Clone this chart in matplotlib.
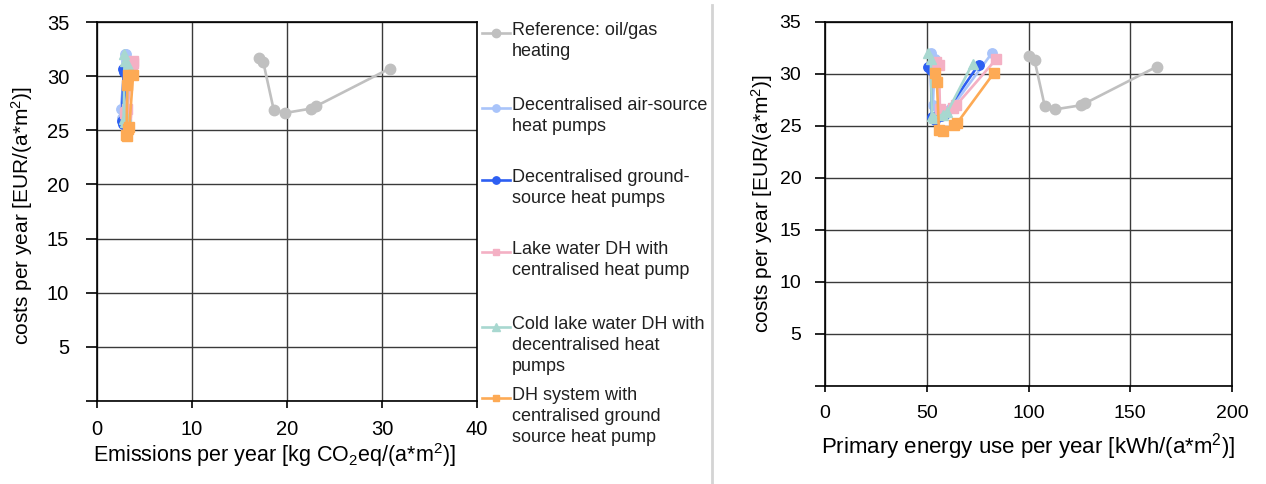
import matplotlib
matplotlib.use('Agg')
import matplotlib.pyplot as plt
from matplotlib.lines import Line2D

plt.rcParams['font.family'] = ['Liberation Sans', 'DejaVu Sans']
plt.rcParams['mathtext.fontset'] = 'custom'
plt.rcParams['mathtext.rm'] = 'Liberation Sans'
plt.rcParams['mathtext.it'] = 'Liberation Sans:italic'

# series: emissions [kg CO2eq/(a*m2)], primary energy [kWh/(a*m2)], costs [EUR/(a*m2)]
ref_emis = [17.0, 17.5, 18.6, 19.8, 22.5, 23.0, 30.8]
ref_pe = [100.0, 103.0, 108.0, 113.0, 126.0, 128.0, 163.0]
ref_cost = [31.7, 31.3, 26.9, 26.6, 27.0, 27.2, 30.7]

air_emis = [2.9, 3.0, 2.5, 2.6, 2.8, 2.9, 3.1]
air_pe = [52.0, 54.0, 53.0, 55.0, 60.0, 62.0, 82.0]
air_cost = [32.0, 31.4, 27.0, 26.1, 26.4, 26.7, 32.0]

ground_emis = [2.7, 2.8, 2.6, 2.7, 2.8, 2.9, 3.0]
ground_pe = [50.5, 52.0, 52.5, 54.0, 57.0, 59.0, 75.5]
ground_cost = [30.7, 30.4, 25.9, 25.6, 26.0, 26.2, 30.9]

lake_emis = [3.8, 3.7, 2.9, 3.0, 3.1, 3.2, 3.8]
lake_pe = [54.5, 56.0, 56.5, 57.5, 63.0, 64.5, 84.0]
lake_cost = [31.2, 30.9, 26.6, 26.3, 26.7, 27.0, 31.4]

cold_emis = [2.8, 2.9, 2.8, 2.9, 3.0, 3.1, 3.3]
cold_pe = [50.5, 52.0, 52.5, 53.5, 58.0, 60.0, 72.5]
cold_cost = [32.0, 31.4, 26.0, 25.8, 26.1, 26.3, 31.0]

dh_emis = [3.3, 3.2, 3.1, 3.2, 3.3, 3.4, 3.8]
dh_pe = [54.0, 55.0, 56.0, 58.0, 63.5, 65.0, 83.0]
dh_cost = [30.1, 29.2, 24.6, 24.5, 25.1, 25.3, 30.1]

labels = ['Reference: oil/gas\nheating',
          'Decentralised air-source\nheat pumps',
          'Decentralised ground-\nsource heat pumps',
          'Lake water DH with\ncentralised heat pump',
          'Cold lake water DH with\ndecentralised heat\npumps',
          'DH system with\ncentralised ground\nsource heat pump']

series = [
    (ref_emis, ref_pe, ref_cost, '#c0c0c0', 'o', 7.5),
    (air_emis, air_pe, air_cost, '#a9c4fa', 'o', 6.8),
    (ground_emis, ground_pe, ground_cost, '#2d5ff2', 'o', 6.8),
    (lake_emis, lake_pe, lake_cost, '#f4b0c4', 's', 6.5),
    (cold_emis, cold_pe, cold_cost, '#a8d8d0', '^', 7.0),
    (dh_emis, dh_pe, dh_cost, '#fdaa55', 's', 6.5),
]

W, H = 1266, 484
fig = plt.figure(figsize=(W / 100, H / 100), dpi=100)


def px_axes(x0, x1, y0, y1):
    return fig.add_axes([x0 / W, 1 - y1 / H, (x1 - x0) / W, (y1 - y0) / H])


ax1 = px_axes(97, 477, 22, 401)
ax2 = px_axes(825, 1232, 22, 386)

for em, pe, cost, color, mk, ms in series:
    ax1.plot(em, cost, color=color, marker=mk, markersize=ms, lw=1.9, zorder=3)
    ax2.plot(pe, cost, color=color, marker=mk, markersize=ms, lw=1.9, zorder=3)

for ax in (ax1, ax2):
    ax.set_ylim(0, 35)
    ax.set_yticks(range(0, 36, 5))
    ax.set_yticklabels([''] + [str(v) for v in range(5, 36, 5)])
    ax.grid(True, color='#3a3a3a', lw=1.0, zorder=1)
    ax.set_axisbelow(True)
    for sp in ax.spines.values():
        sp.set_color('black')
        sp.set_linewidth(1.2)

ax1.set_xlim(0, 40)
ax1.set_xticks(range(0, 41, 10))
ax1.tick_params(axis='y', length=8, width=1.2, pad=12, labelsize=14.5)
ax1.tick_params(axis='x', length=5, width=1.2, pad=9, labelsize=14.5)
ax1.set_xlabel(r'Emissions per year [kg CO$_2$eq/(a*m$^2$)]', fontsize=15.5)
ax1.xaxis.set_label_coords(0.468, -0.142)
ax1.xaxis.label.set_va('center')
ax1.set_ylabel(r'costs per year [EUR/(a*m$^2$)]', fontsize=15)
ax1.yaxis.set_label_coords(-0.198, 0.49)
ax1.yaxis.label.set_va('center')

ax2.set_xlim(0, 200)
ax2.set_xticks(range(0, 201, 50))
ax2.tick_params(axis='y', length=7, width=1.2, pad=10, labelsize=14)
ax2.tick_params(axis='x', length=4, width=1.2, pad=10, labelsize=14)
ax2.set_xlabel(r'Primary energy use per year [kWh/(a*m$^2$)]', fontsize=16)
ax2.xaxis.set_label_coords(0.5, -0.165)
ax2.xaxis.label.set_va('center')
ax2.set_ylabel(r'costs per year [EUR/(a*m$^2$)]', fontsize=15)
ax2.yaxis.set_label_coords(-0.155, 0.5)
ax2.yaxis.label.set_va('center')

# legend drawn by hand so the handle sits on the first text line
leg_y = [33, 108, 180, 252, 327, 398]
for (em, pe, cost, color, mk, ms), lab, y in zip(series, labels, leg_y):
    fig.add_artist(Line2D([482 / W, 510 / W], [1 - y / H, 1 - y / H], color=color, lw=1.9,
                          transform=fig.transFigure))
    fig.add_artist(Line2D([496 / W], [1 - y / H], color=color, marker=mk, markersize=ms - 1.5,
                          transform=fig.transFigure))
    fig.text(512 / W, 1 - (y - 11) / H, lab, fontsize=13, va='top', ha='left',
             color='#202020', linespacing=1.3)

# divider between the two panels
fig.add_artist(Line2D([712 / W, 712 / W], [0, 1 - 5 / H], color='#d4d4d4', lw=2,
                      transform=fig.transFigure))

fig.savefig('out.png', dpi=100)
